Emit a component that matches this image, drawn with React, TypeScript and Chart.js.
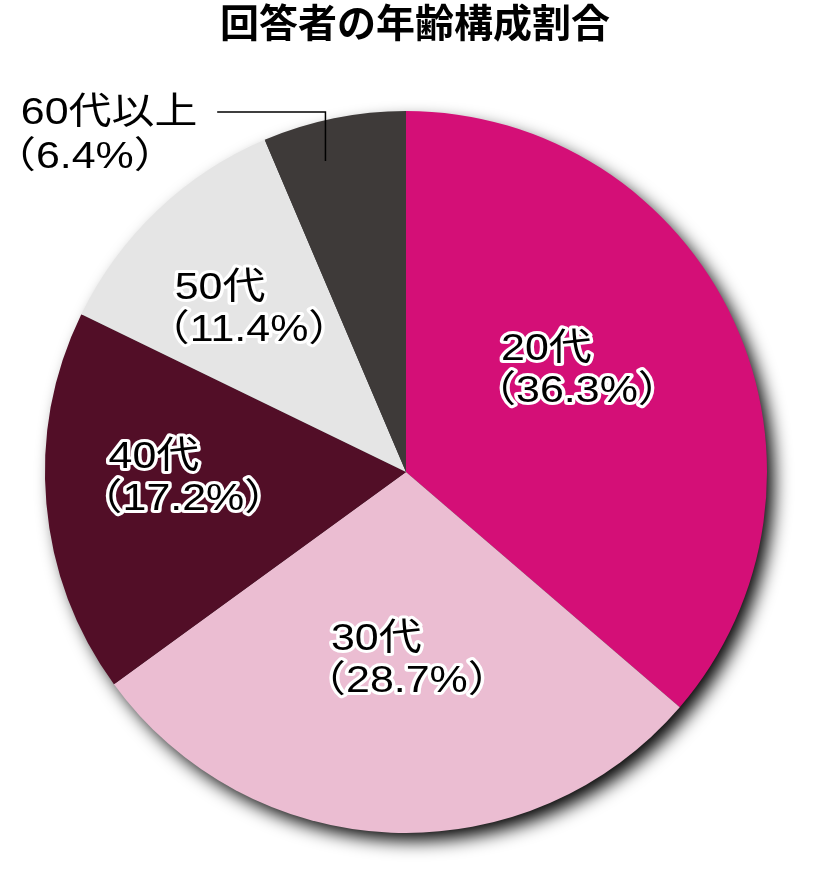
import React, { useEffect, useRef } from 'react';
import { Chart, registerables } from 'chart.js';

Chart.register(...registerables);

const TITLE = '回答者の年齢構成割合';
const categories = ['20代', '30代', '40代', '50代', '60代以上'];
const shares = [36.3, 28.7, 17.2, 11.4, 6.4];
const sliceColors = ['#D40F77', '#EBBDD2', '#520E27', '#E5E5E5', '#3E3A39'];

const LABEL_FONT = '"Liberation Sans", "Noto Sans CJK JP", sans-serif';
const FONT_SIZE = 37;
const SX = 1.16;
// inner label placement (radius fraction of slice, angle shift in degrees)
const labelRadius = [0.55, 0.524, 0.617, 0.623];
const labelAngleShift = [-5.9, -2.6, 3.1, -0.7];

type Ctx = CanvasRenderingContext2D;

function drawLines(ctx: Ctx, lines: string[], visLeft: number, baselines: number[], outlined: boolean) {
  ctx.save();
  ctx.font = `${FONT_SIZE}px ${LABEL_FONT}`;
  ctx.textAlign = 'left';
  ctx.textBaseline = 'alphabetic';
  const rights: number[] = [];
  lines.forEach((t, i) => {
    const m = ctx.measureText(t);
    const x = visLeft + m.actualBoundingBoxLeft * SX;
    rights.push(visLeft + (m.actualBoundingBoxLeft + m.actualBoundingBoxRight) * SX);
    ctx.save();
    ctx.translate(x, baselines[i]);
    ctx.scale(SX, 1);
    if (outlined) {
      ctx.lineJoin = 'round';
      ctx.lineWidth = 6;
      ctx.strokeStyle = '#FFFFFF';
      ctx.strokeText(t, 0, 0);
    }
    ctx.fillStyle = '#000000';
    ctx.fillText(t, 0, 0);
    ctx.restore();
  });
  ctx.restore();
  return rights;
}

function blockWidth(ctx: Ctx, lines: string[]) {
  ctx.save();
  ctx.font = `${FONT_SIZE}px ${LABEL_FONT}`;
  const w = Math.max(
    ...lines.map((t) => {
      const m = ctx.measureText(t);
      return (m.actualBoundingBoxLeft + m.actualBoundingBoxRight) * SX;
    })
  );
  ctx.restore();
  return w;
}

const shadowPlugin = {
  id: 'pieShadow',
  beforeDatasetsDraw(chart: any) {
    const arc = chart.getDatasetMeta(0).data[0];
    if (!arc) return;
    const { x, y, outerRadius } = arc.getProps(['x', 'y', 'outerRadius'], true);
    const ctx: Ctx = chart.ctx;
    ctx.save();
    ctx.shadowColor = '#000000';
    ctx.shadowBlur = 18;
    ctx.shadowOffsetX = 8;
    ctx.shadowOffsetY = 9;
    ctx.fillStyle = '#333333';
    ctx.beginPath();
    ctx.arc(x, y, outerRadius - 1.5, 0, Math.PI * 2);
    ctx.fill();
    ctx.restore();
  },
};

const labelPlugin = {
  id: 'sliceLabels',
  afterDatasetsDraw(chart: any) {
    const ctx: Ctx = chart.ctx;
    const meta = chart.getDatasetMeta(0);
    const area = chart.chartArea;
    meta.data.forEach((arc: any, i: number) => {
      const p = arc.getProps(['x', 'y', 'startAngle', 'endAngle', 'outerRadius'], true);
      const mid = (p.startAngle + p.endAngle) / 2;
      const lines = [categories[i], `（${shares[i].toFixed(1)}%）`];
      if (i < labelRadius.length) {
        const a = mid + (labelAngleShift[i] * Math.PI) / 180;
        const r = p.outerRadius * labelRadius[i];
        const cx = p.x + Math.cos(a) * r;
        const cy = p.y + Math.sin(a) * r;
        const w = blockWidth(ctx, lines);
        drawLines(ctx, lines, cx - w / 2, [cy - 11.5, cy + 30.5], true);
      } else {
        const b1 = area.top + 13;
        const rights = drawLines(ctx, lines, area.left - 23, [b1, b1 + 44], false);
        const a = mid - (3 * Math.PI) / 180;
        const ax = p.x + Math.cos(a) * p.outerRadius * 0.89;
        const ay = p.y + Math.sin(a) * p.outerRadius * 0.89;
        const ly = b1 - 12;
        ctx.save();
        ctx.strokeStyle = '#000000';
        ctx.lineWidth = 1.5;
        ctx.beginPath();
        ctx.moveTo(rights[0] + 21, ly);
        ctx.lineTo(ax, ly);
        ctx.lineTo(ax, ay);
        ctx.stroke();
        ctx.restore();
      }
    });
  },
};

const titlePlugin = {
  id: 'jpTitle',
  afterDraw(chart: any) {
    const ctx: Ctx = chart.ctx;
    const area = chart.chartArea;
    ctx.save();
    ctx.font = 'bold 39px "Noto Sans CJK JP", sans-serif';
    ctx.fillStyle = '#000000';
    ctx.textAlign = 'center';
    ctx.textBaseline = 'middle';
    ctx.fillText(TITLE, (area.left + area.right) / 2 + 9, 22);
    ctx.restore();
  },
};

export default function App() {
  const ref = useRef<HTMLCanvasElement | null>(null);
  useEffect(() => {
    if (!ref.current) return;
    const chart = new Chart(ref.current, {
      type: 'pie',
      data: {
        labels: categories,
        datasets: [
          {
            data: shares,
            backgroundColor: sliceColors,
            borderWidth: 0,
          },
        ],
      },
      options: {
        responsive: false,
        animation: false,
        events: [],
        layout: { padding: { top: 111, left: 45, right: 49, bottom: 49 } },
        plugins: {
          legend: { display: false },
          tooltip: { enabled: false },
          title: { display: false },
        },
      },
      plugins: [shadowPlugin, labelPlugin, titlePlugin],
    });
    return () => chart.destroy();
  }, []);
  return (
    <div style={{ position: 'absolute', left: 0, top: 0, width: 816, height: 882, background: '#FFFFFF' }}>
      <canvas ref={ref} width={816} height={882} />
    </div>
  );
}
